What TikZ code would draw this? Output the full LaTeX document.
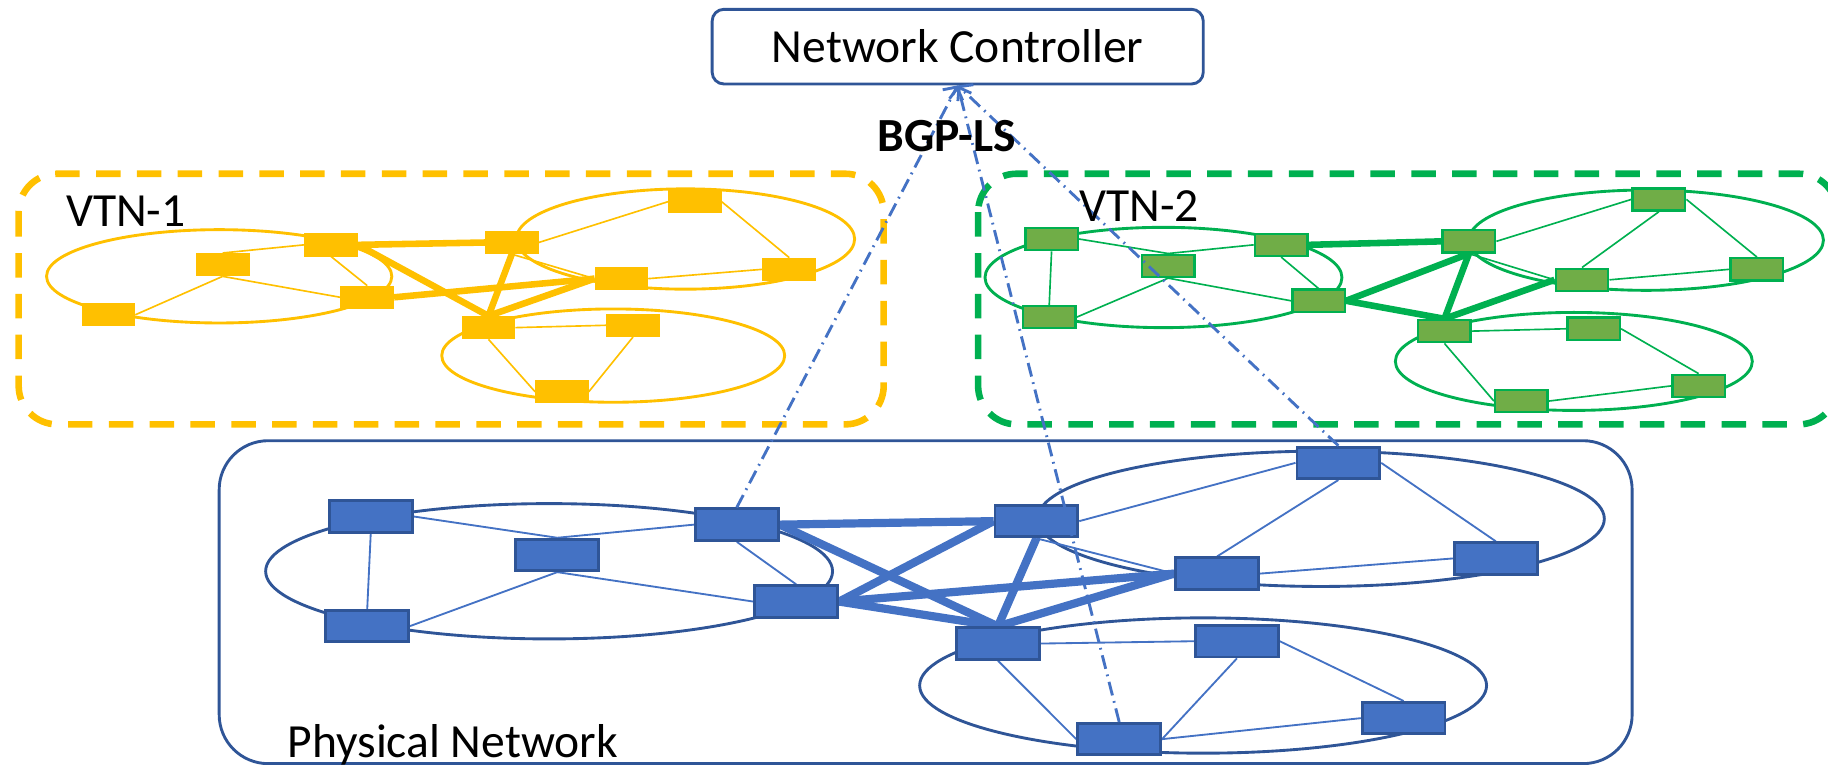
\documentclass[tikz,border=0pt]{standalone}
\usepackage{fontspec}
\setmainfont{Carlito}
\usetikzlibrary{arrows.meta}
\definecolor{vorange}{HTML}{FFC000}
\definecolor{vgreen}{HTML}{00B050}
\definecolor{vgreenfill}{HTML}{70AD47}
\definecolor{pblue}{HTML}{4472C4}
\definecolor{pdark}{HTML}{2F5597}
\pgfdeclarelayer{ringlayer}
\pgfdeclarelayer{edgelayer}
\pgfsetlayers{ringlayer,edgelayer,main}
\begin{document}
\begin{tikzpicture}[x=0.01cm,y=-0.01cm,
  lbl/.style={font=\fontsize{11.6}{13.9}\selectfont, inner sep=0pt, anchor=base west},
  onode/.style={rectangle, fill=vorange, draw=vorange, line width=0.3pt, minimum width=0.45cm, minimum height=0.19cm, inner sep=0pt},
  gnode/.style={rectangle, fill=vgreenfill, draw=vgreen, line width=0.6pt, minimum width=0.45cm, minimum height=0.19cm, inner sep=0pt},
  pnode/.style={rectangle, fill=pblue, draw=pdark, line width=0.7pt, minimum width=0.71cm, minimum height=0.27cm, inner sep=0pt},
  oring/.style={draw=vorange, line width=0.7pt},
  gring/.style={draw=vgreen, line width=0.7pt},
  pring/.style={draw=pdark, line width=0.7pt},
  othin/.style={draw=vorange, line width=0.4pt},
  othick/.style={draw=vorange, line width=1.6pt},
  gthin/.style={draw=vgreen, line width=0.4pt},
  gthick/.style={draw=vgreen, line width=1.6pt},
  pthin/.style={draw=pblue, line width=0.45pt},
  pthick/.style={draw=pblue, line width=2pt},
  vtnbox/.style={line width=1.6pt, dash pattern=on 0.21cm off 0.14cm, rounded corners=0.33cm},
  ctl/.style={draw=pblue, line width=0.7pt, dash pattern=on 0.12cm off 0.05cm on 0.015cm off 0.05cm, -{Straight Barb[length=2.2pt,width=5.5pt]}}
]
\useasboundingbox (0,0) rectangle (1568,656);

\begin{pgfonlayer}{ringlayer}
% frames
\draw[vtnbox, draw=vorange] (16,149) rectangle (758,364);
\draw[vtnbox, draw=vgreen] (839,149) rectangle (1576,364);
\draw[draw=pdark, line width=0.7pt, rounded corners=0.42cm] (188,378) rectangle (1400,655);
% rings
\draw[oring] (188,237) ellipse [x radius=1.48cm, y radius=0.40cm];
\draw[oring] (588,205) ellipse [x radius=1.45cm, y radius=0.43cm];
\draw[oring] (526,305) ellipse [x radius=1.47cm, y radius=0.40cm];
\draw[gring] (998,238) ellipse [x radius=1.53cm, y radius=0.43cm];
\draw[gring] (1412,206) ellipse [x radius=1.52cm, y radius=0.43cm];
\draw[gring] (1350,310) ellipse [x radius=1.53cm, y radius=0.42cm];
\draw[pring] (471,490) ellipse [x radius=2.43cm, y radius=0.58cm];
\draw[pring] (1133,445) ellipse [x radius=2.43cm, y radius=0.58cm];
\draw[pring] (1032,588) ellipse [x radius=2.43cm, y radius=0.58cm];
\end{pgfonlayer}

% controller
\node[draw=pdark, line width=0.7pt, rounded corners=0.1cm, minimum width=4.21cm, minimum height=0.64cm, inner sep=0pt, font=\fontsize{11.6}{13.9}\selectfont] (ctrl) at (821.5,40) {Network Controller};

% VTN-1 nodes
\node[onode] (O1) at (93,270) {};
\node[onode] (O2) at (191,227) {};
\node[onode] (O3) at (284,210) {};
\node[onode] (O4) at (315,255) {};
\node[onode] (O5) at (439,208) {};
\node[onode] (O6) at (596,173) {};
\node[onode] (O7) at (533,239) {};
\node[onode] (O8) at (677,231) {};
\node[onode] (O9) at (419,281) {};
\node[onode] (O10) at (543,279) {};
\node[onode] (O11) at (482,336) {};

% VTN-2 nodes
\node[gnode] (G1) at (902,205) {};
\node[gnode] (G2) at (1002,228) {};
\node[gnode] (G3) at (1099,210) {};
\node[gnode] (G4) at (1131,258) {};
\node[gnode] (G5) at (900,272) {};
\node[gnode] (G6) at (1260,207) {};
\node[gnode] (G7) at (1357,240) {};
\node[gnode] (G8) at (1423,171) {};
\node[gnode] (G9) at (1507,231) {};
\node[gnode] (G10) at (1239,284) {};
\node[gnode] (G11) at (1367,282) {};
\node[gnode] (G12) at (1305,344) {};
\node[gnode] (G13) at (1457,331) {};

% physical nodes
\node[pnode] (P1) at (318,443) {};
\node[pnode] (P2) at (478,476) {};
\node[pnode] (P3) at (632,450) {};
\node[pnode] (P4) at (315,537) {};
\node[pnode] (P5) at (683,516) {};
\node[pnode] (P6) at (889,447) {};
\node[pnode] (P7) at (1044,492) {};
\node[pnode] (P8) at (1148,397) {};
\node[pnode] (P9) at (1283,479) {};
\node[pnode] (P10) at (856,552) {};
\node[pnode] (P11) at (1061,550) {};
\node[pnode] (P12) at (1204,616) {};
\node[pnode] (P13) at (960,634) {};

\begin{pgfonlayer}{edgelayer}
% VTN-1 edges
\draw[othin] (O1.east) -- (O2.south);
\draw[othin] (O2.north) -- (O3.west);
\draw[othin] (O2.south) -- (O4.west);
\draw[othin] (O3.south) -- (O4.north);
\draw[othin] (O5.east) -- (O6.west);
\draw[othin] (O5.south) -- (O7.west);
\draw[othin] (O6.east) -- (O8.north);
\draw[othin] (O7.east) -- (O8.west);
\draw[othin] (O9.east) -- (O10.west);
\draw[othin] (O9.south) -- (O11.west);
\draw[othin] (O10.south) -- (O11.east);
\draw[othick] (O3.east) -- (O5.west);
\draw[othick] (O3.east) -- (O9.north);
\draw[othick] (O4.east) -- (O7.west);
\draw[othick] (O5.south) -- (O9.north);
\draw[othick] (O7.west) -- (O9.north);
% VTN-2 edges
\draw[gthin] (G1.south) -- (G5.north);
\draw[gthin] (G1.east) -- (G2.north);
\draw[gthin] (G2.north) -- (G3.west);
\draw[gthin] (G2.south) -- (G5.east);
\draw[gthin] (G2.south) -- (G4.west);
\draw[gthin] (G3.south) -- (G4.north);
\draw[gthin] (G6.east) -- (G8.west);
\draw[gthin] (G6.south) -- (G7.west);
\draw[gthin] (G8.south) -- (G7.north);
\draw[gthin] (G8.east) -- (G9.north);
\draw[gthin] (G7.east) -- (G9.west);
\draw[gthin] (G10.east) -- (G11.west);
\draw[gthin] (G10.south) -- (G12.west);
\draw[gthin] (G11.east) -- (G13.north);
\draw[gthin] (G12.east) -- (G13.west);
\draw[gthick] (G3.east) -- (G6.west);
\draw[gthick] (G4.east) -- (G6.south);
\draw[gthick] (G4.east) -- (G10.north);
\draw[gthick] (G6.south) -- (G10.north);
\draw[gthick] (G7.west) -- (G10.north);
% physical edges
\draw[pthin] (P1.east) -- (P2.north);
\draw[pthin] (P2.north) -- (P3.west);
\draw[pthin] (P1.south) -- (P4.north);
\draw[pthin] (P2.south) -- (P4.east);
\draw[pthin] (P2.south) -- (P5.west);
\draw[pthin] (P3.south) -- (P5.north);
\draw[pthin] (P6.east) -- (P8.west);
\draw[pthin] (P6.south) -- (P7.west);
\draw[pthin] (P8.south) -- (P7.north);
\draw[pthin] (P8.east) -- (P9.north);
\draw[pthin] (P7.east) -- (P9.west);
\draw[pthin] (P10.east) -- (P11.west);
\draw[pthin] (P10.south) -- (P13.west);
\draw[pthin] (P11.south) -- (P13.east);
\draw[pthin] (P11.east) -- (P12.north);
\draw[pthin] (P13.east) -- (P12.west);
\draw[pthick] (P3.east) -- (P6.west);
\draw[pthick] (P3.east) -- (P10.north);
\draw[pthick] (P5.east) -- (P6.west);
\draw[pthick] (P5.east) -- (P7.west);
\draw[pthick] (P5.east) -- (P10.north);
\draw[pthick] (P6.south) -- (P10.north);
\draw[pthick] (P7.west) -- (P10.north);
\end{pgfonlayer}

% BGP-LS links
\draw[ctl] (P3.north) -- (ctrl.south);
\draw[ctl] (P13.north) -- (ctrl.south);
\draw[ctl] (P8.north) -- (ctrl.south);

% labels
\node[lbl, font=\fontsize{11.6}{13.9}\selectfont\bfseries, anchor=base] (bgp) at (812,130) {BGP-LS};
\node[lbl] (vtn1) at (56,194) {VTN-1};
\node[lbl] (vtn2) at (925,190) {VTN-2};
\node[lbl] (phys) at (246,650) {Physical Network};
\end{tikzpicture}
\end{document}
